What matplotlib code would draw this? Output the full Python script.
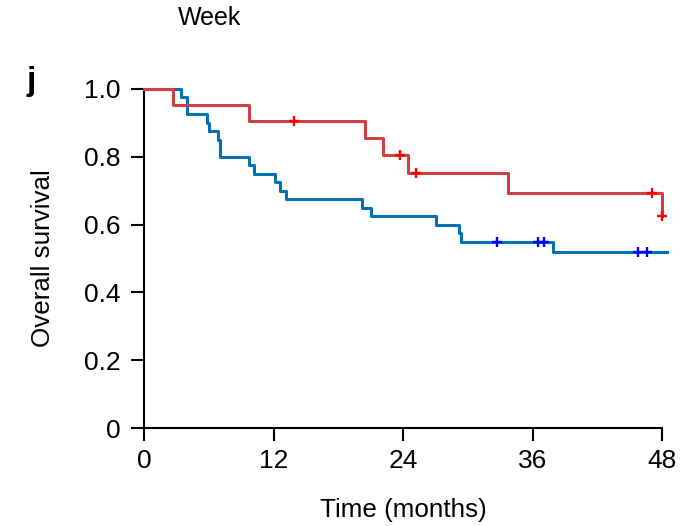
import matplotlib
matplotlib.use("Agg")
import matplotlib.pyplot as plt

plt.rcParams['font.family'] = ['Liberation Sans', 'DejaVu Sans']

# Kaplan-Meier steps (time in months, survival)
red_t = [0, 2.66, 9.76, 20.5, 22.1, 24.5, 33.7, 48.0]
red_s = [1.0, 0.952, 0.905, 0.855, 0.804, 0.751, 0.693, 0.626]
red_cens = [13.9, 23.7, 25.2, 47.1, 48.0]
red_end = 48.0

blue_t = [0, 3.40, 3.95, 5.87, 6.06, 6.83, 7.04, 9.77, 10.19, 12.14, 12.60,
          13.13, 20.23, 21.0, 27.1, 29.2, 29.4, 37.9]
blue_s = [1.0, 0.975, 0.925, 0.9, 0.875, 0.85, 0.8, 0.775, 0.75, 0.725, 0.7,
          0.675, 0.65, 0.625, 0.6, 0.575, 0.55, 0.518]
blue_cens = [32.7, 36.5, 37.1, 45.8, 46.6]
blue_end = 48.5

xticks = [0, 12, 24, 36, 48]
yticks = [0, 0.2, 0.4, 0.6, 0.8, 1.0]
ytick_labels = ['0', '0.2', '0.4', '0.6', '0.8', '1.0']


def surv_at(times, surv, t):
    val = surv[0]
    for ti, si in zip(times, surv):
        if ti <= t:
            val = si
    return val


fig = plt.figure(figsize=(6.97, 5.26), dpi=100)
ax = fig.add_axes([0.2066, 0.1863, 0.7432, 0.6445])

ax.step(blue_t + [blue_end], blue_s + [blue_s[-1]], where='post',
        color='#0072b2', lw=2.2, clip_on=False, zorder=3)
ax.step(red_t + [red_end], red_s + [red_s[-1]], where='post',
        color='#cc4141', lw=2.2, clip_on=False, zorder=4)

ax.plot(blue_cens, [surv_at(blue_t, blue_s, t) for t in blue_cens], '+',
        color='#0000ff', ms=7, mew=1.7, clip_on=False, zorder=5)
ax.plot(red_cens, [surv_at(red_t, red_s, t) for t in red_cens], '+',
        color='#ff0000', ms=7, mew=1.7, clip_on=False, zorder=5)

ax.set_xlim(0, 48)
ax.set_ylim(0, 1.0)
ax.set_xticks(xticks)
ax.set_yticks(yticks)
ax.set_yticklabels(ytick_labels)

for s in ['top', 'right']:
    ax.spines[s].set_visible(False)
for s in ['left', 'bottom']:
    ax.spines[s].set_linewidth(1.5)

ax.tick_params(axis='both', direction='out', length=9.4, width=1.5,
               labelsize=19, colors='black')
ax.tick_params(axis='y', pad=7.5)
ax.tick_params(axis='x', pad=6)

ax.set_xlabel('Time (months)', fontsize=18.7, labelpad=18)
ax.set_ylabel('Overall survival', fontsize=18.7, labelpad=21)

fig.text(0.255, 0.965, 'Week', fontsize=18, ha='left', va='center')
fig.text(0.038, 0.845, 'j', fontsize=24, fontweight='bold', ha='left', va='center')

fig.savefig('out.png', dpi=100)
